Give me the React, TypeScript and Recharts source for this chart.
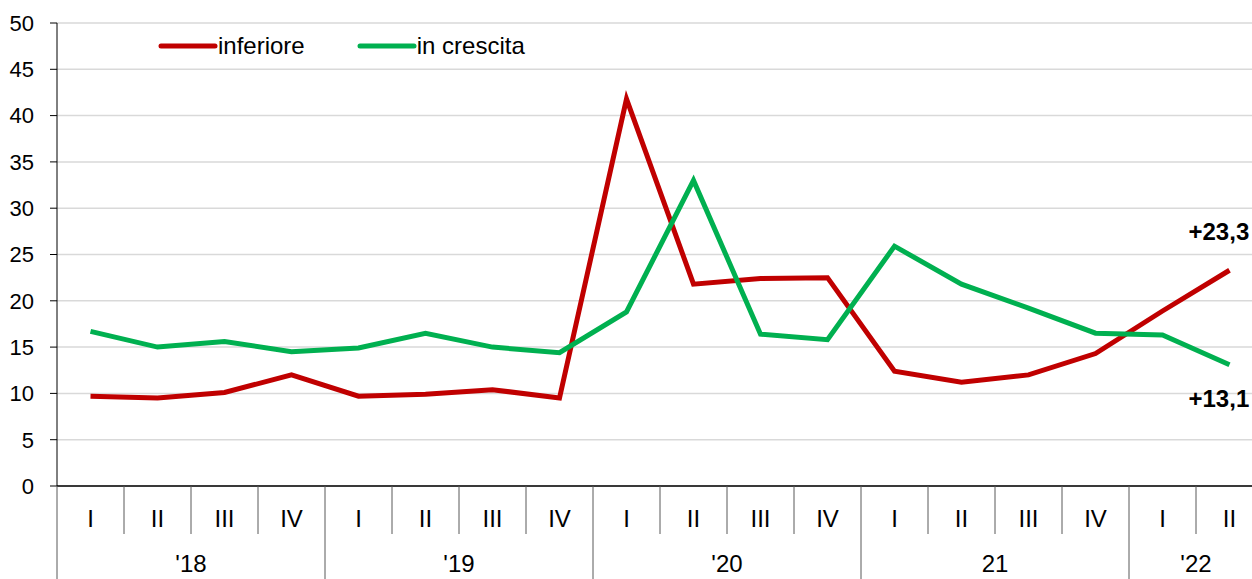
import React from 'react';
import { LineChart, Line, XAxis, YAxis, CartesianGrid } from 'recharts';

const quarters = ['I', 'II', 'III', 'IV', 'I', 'II', 'III', 'IV', 'I', 'II', 'III', 'IV', 'I', 'II', 'III', 'IV', 'I', 'II'];
const yearLabels = ["'18", "'19", "'20", '21', "'22"];
const yearSizes = [4, 4, 4, 4, 2];

const inferiore = [9.7, 9.5, 10.1, 12.0, 9.7, 9.9, 10.4, 9.5, 41.8, 21.8, 22.4, 22.5, 12.4, 11.2, 12.0, 14.3, 18.9, 23.3];
const inCrescita = [16.7, 15.0, 15.6, 14.5, 14.9, 16.5, 15.0, 14.4, 18.8, 33.0, 16.4, 15.8, 25.9, 21.8, 19.2, 16.5, 16.3, 13.1];

const seriesNames = ['inferiore', 'in crescita'];
const seriesColors = ['#C00000', '#00B050'];
const endLabels = ['+23,3', '+13,1'];
const yTicks = [0, 5, 10, 15, 20, 25, 30, 35, 40, 45, 50];

const FONT = '"Liberation Sans", Arial, sans-serif';
const CHART_W = 1270;
const CHART_H = 579;
const PLOT_LEFT = 57;
const PLOT_RIGHT = 1263;
const PLOT_TOP = 23;
const PLOT_BOTTOM = 486;
const BAND = (PLOT_RIGHT - PLOT_LEFT) / quarters.length;

const data = quarters.map((q, i) => ({
  idx: i,
  inferiore: inferiore[i],
  crescita: inCrescita[i],
}));

// start index of each year group
const yearStarts: number[] = [];
yearSizes.reduce((acc, n) => {
  yearStarts.push(acc);
  return acc + n;
}, 0);

const QuarterTick = (props: any) => {
  const { x, payload } = props;
  const i = Number(payload.value);
  const yearIdx = yearStarts.findIndex((s, k) => i >= s && i < s + yearSizes[k]);
  const start = yearStarts[yearIdx];
  const size = yearSizes[yearIdx];
  const isYearStart = i === start;
  const labelAt = start + Math.ceil(size / 2) - 1;
  const yearX = x + (start + size / 2 - 0.5 - i) * BAND;
  return (
    <g>
      <line
        x1={x - BAND / 2}
        x2={x - BAND / 2}
        y1={PLOT_BOTTOM}
        y2={isYearStart ? CHART_H : 534}
        stroke="#595959"
        strokeWidth={1}
      />
      <text x={x} y={518} textAnchor="middle" dominantBaseline="central" fontSize={24} fontFamily={FONT} fill="#000">
        {quarters[i]}
      </text>
      {i === labelAt && (
        <text x={yearX} y={563} textAnchor="middle" dominantBaseline="central" fontSize={24} fontFamily={FONT} fill="#000">
          {yearLabels[yearIdx]}
        </text>
      )}
    </g>
  );
};

const endLabel = (seriesIdx: number, dy: number) => (props: any) => {
  const { x, y, index } = props;
  if (index !== quarters.length - 1) return null;
  return (
    <text x={x - 41} y={y + dy} fontSize={24} fontWeight="bold" fontFamily={FONT} fill="#000">
      {endLabels[seriesIdx]}
    </text>
  );
};

const App: React.FC = () => {
  return (
    <div style={{ position: 'absolute', left: 0, top: 0, width: 1252, height: 579, overflow: 'hidden', background: '#fff' }}>
      <LineChart
        width={CHART_W}
        height={CHART_H}
        data={data}
        margin={{ top: PLOT_TOP, right: CHART_W - PLOT_RIGHT, bottom: 0, left: 0 }}
      >
        <CartesianGrid vertical={false} stroke="#D9D9D9" strokeWidth={1.5} />
        <XAxis
          dataKey="idx"
          type="category"
          interval={0}
          height={CHART_H - PLOT_BOTTOM}
          padding={{ left: BAND / 2, right: BAND / 2 }}
          axisLine={{ stroke: '#000', strokeWidth: 1.5 }}
          tickLine={false}
          tick={<QuarterTick />}
        />
        <YAxis
          width={PLOT_LEFT}
          domain={[0, 50]}
          ticks={yTicks}
          interval={0}
          axisLine={{ stroke: '#000' }}
          tickLine={{ stroke: '#000' }}
          tickSize={7}
          tickMargin={16}
          tick={{ fontSize: 22, fill: '#000', fontFamily: FONT }}
        />
        <Line
          type="linear"
          dataKey="inferiore"
          stroke={seriesColors[0]}
          strokeWidth={5}
          dot={false}
          isAnimationActive={false}
          label={endLabel(0, -30)}
        />
        <Line
          type="linear"
          dataKey="crescita"
          stroke={seriesColors[1]}
          strokeWidth={5}
          dot={false}
          isAnimationActive={false}
          label={endLabel(1, 42)}
        />
      </LineChart>
      <div style={{ position: 'absolute', top: 32, left: 158, display: 'flex', fontFamily: FONT, fontSize: 24, color: '#000' }}>
        {seriesNames.map((name, k) => (
          <div key={name} style={{ display: 'flex', alignItems: 'center', marginRight: k === 0 ? 52 : 0 }}>
            <svg width={60} height={10}>
              <line x1={3} x2={57} y1={5} y2={5} stroke={seriesColors[k]} strokeWidth={5} strokeLinecap="round" />
            </svg>
            <span>{name}</span>
          </div>
        ))}
      </div>
    </div>
  );
};

export default App;
